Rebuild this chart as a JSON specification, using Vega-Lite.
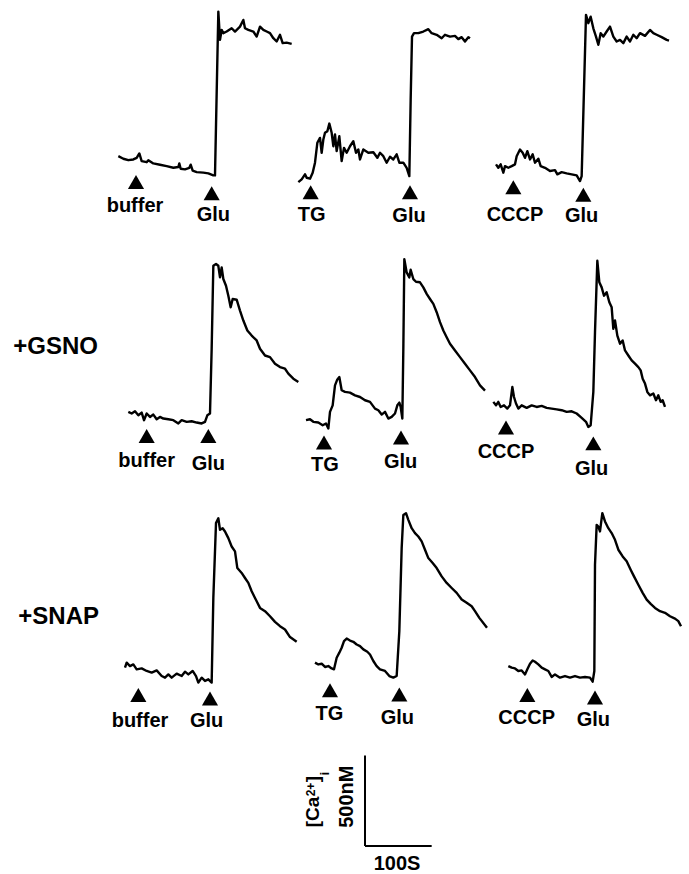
{
  "$schema": "https://vega.github.io/schema/vega-lite/v6.json",
  "width": 689,
  "height": 874,
  "autosize": {"type": "fit", "contains": "padding"},
  "padding": 0,
  "background": "white",
  "config": {"view": {"stroke": null}, "text": {"font": "Liberation Sans", "fontWeight": "bold", "color": "black"}},
  "datasets": {
    "traces": [
      {"trace":"ctrl-buffer","t":177.5,"ca":3945},{"trace":"ctrl-buffer","t":185,"ca":3931},{"trace":"ctrl-buffer","t":192.5,"ca":3923},{"trace":"ctrl-buffer","t":200,"ca":3927},{"trace":"ctrl-buffer","t":205,"ca":3936},{"trace":"ctrl-buffer","t":209,"ca":3960},{"trace":"ctrl-buffer","t":212.5,"ca":3918},{"trace":"ctrl-buffer","t":220,"ca":3912},{"trace":"ctrl-buffer","t":222.5,"ca":3923},{"trace":"ctrl-buffer","t":230,"ca":3905},{"trace":"ctrl-buffer","t":240,"ca":3898},{"trace":"ctrl-buffer","t":250,"ca":3890},{"trace":"ctrl-buffer","t":260,"ca":3881},{"trace":"ctrl-buffer","t":267.5,"ca":3885},{"trace":"ctrl-buffer","t":269,"ca":3905},{"trace":"ctrl-buffer","t":271,"ca":3876},{"trace":"ctrl-buffer","t":277.5,"ca":3872},{"trace":"ctrl-buffer","t":284,"ca":3881},{"trace":"ctrl-buffer","t":286,"ca":3898},{"trace":"ctrl-buffer","t":289,"ca":3865},{"trace":"ctrl-buffer","t":295,"ca":3857},{"trace":"ctrl-buffer","t":305,"ca":3854},{"trace":"ctrl-buffer","t":312.5,"ca":3850},{"trace":"ctrl-buffer","t":320,"ca":3839},{"trace":"ctrl-buffer","t":322.5,"ca":3839},{"trace":"ctrl-buffer","t":327.5,"ca":4743},{"trace":"ctrl-buffer","t":330,"ca":4587},{"trace":"ctrl-buffer","t":332.5,"ca":4642},{"trace":"ctrl-buffer","t":335,"ca":4624},{"trace":"ctrl-buffer","t":340,"ca":4633},{"trace":"ctrl-buffer","t":347.5,"ca":4651},{"trace":"ctrl-buffer","t":352.5,"ca":4633},{"trace":"ctrl-buffer","t":360,"ca":4660},{"trace":"ctrl-buffer","t":365,"ca":4697},{"trace":"ctrl-buffer","t":367.5,"ca":4651},{"trace":"ctrl-buffer","t":372.5,"ca":4642},{"trace":"ctrl-buffer","t":380,"ca":4633},{"trace":"ctrl-buffer","t":385,"ca":4605},{"trace":"ctrl-buffer","t":390,"ca":4660},{"trace":"ctrl-buffer","t":395,"ca":4642},{"trace":"ctrl-buffer","t":400,"ca":4633},{"trace":"ctrl-buffer","t":405,"ca":4624},{"trace":"ctrl-buffer","t":410,"ca":4596},{"trace":"ctrl-buffer","t":415,"ca":4578},{"trace":"ctrl-buffer","t":420,"ca":4615},{"trace":"ctrl-buffer","t":424,"ca":4569},{"trace":"ctrl-buffer","t":430,"ca":4572},{"trace":"ctrl-buffer","t":437.5,"ca":4565},

      {"trace":"ctrl-TG","t":447.5,"ca":3802},{"trace":"ctrl-TG","t":452.5,"ca":3817},{"trace":"ctrl-TG","t":457.5,"ca":3845},{"trace":"ctrl-TG","t":460,"ca":3826},{"trace":"ctrl-TG","t":465,"ca":3821},{"trace":"ctrl-TG","t":469,"ca":3854},{"trace":"ctrl-TG","t":472.5,"ca":3909},{"trace":"ctrl-TG","t":476,"ca":4019},{"trace":"ctrl-TG","t":480,"ca":4046},{"trace":"ctrl-TG","t":482.5,"ca":3964},{"trace":"ctrl-TG","t":485,"ca":4037},{"trace":"ctrl-TG","t":487.5,"ca":4074},{"trace":"ctrl-TG","t":491,"ca":4083},{"trace":"ctrl-TG","t":494,"ca":4125},{"trace":"ctrl-TG","t":497.5,"ca":4074},{"trace":"ctrl-TG","t":500,"ca":4000},{"trace":"ctrl-TG","t":502.5,"ca":4065},{"trace":"ctrl-TG","t":505,"ca":3973},{"trace":"ctrl-TG","t":509,"ca":4055},{"trace":"ctrl-TG","t":512.5,"ca":3918},{"trace":"ctrl-TG","t":516,"ca":3991},{"trace":"ctrl-TG","t":520,"ca":3964},{"trace":"ctrl-TG","t":525,"ca":4000},{"trace":"ctrl-TG","t":530,"ca":4028},{"trace":"ctrl-TG","t":534,"ca":3964},{"trace":"ctrl-TG","t":537.5,"ca":3982},{"trace":"ctrl-TG","t":540,"ca":3927},{"trace":"ctrl-TG","t":545,"ca":3982},{"trace":"ctrl-TG","t":552.5,"ca":3964},{"trace":"ctrl-TG","t":560,"ca":3967},{"trace":"ctrl-TG","t":566,"ca":3936},{"trace":"ctrl-TG","t":570,"ca":3964},{"trace":"ctrl-TG","t":575,"ca":3945},{"trace":"ctrl-TG","t":580,"ca":3909},{"trace":"ctrl-TG","t":585,"ca":3942},{"trace":"ctrl-TG","t":590,"ca":3927},{"trace":"ctrl-TG","t":595,"ca":3955},{"trace":"ctrl-TG","t":599,"ca":3909},{"trace":"ctrl-TG","t":605,"ca":3909},{"trace":"ctrl-TG","t":610,"ca":3881},{"trace":"ctrl-TG","t":614,"ca":3835},{"trace":"ctrl-TG","t":616,"ca":4257},{"trace":"ctrl-TG","t":618,"ca":4605},{"trace":"ctrl-TG","t":621,"ca":4624},{"trace":"ctrl-TG","t":627.5,"ca":4624},{"trace":"ctrl-TG","t":635,"ca":4633},{"trace":"ctrl-TG","t":642.5,"ca":4646},{"trace":"ctrl-TG","t":647.5,"ca":4624},{"trace":"ctrl-TG","t":655,"ca":4615},{"trace":"ctrl-TG","t":662.5,"ca":4596},{"trace":"ctrl-TG","t":667.5,"ca":4615},{"trace":"ctrl-TG","t":675,"ca":4605},{"trace":"ctrl-TG","t":682.5,"ca":4609},{"trace":"ctrl-TG","t":687.5,"ca":4591},{"trace":"ctrl-TG","t":692.5,"ca":4602},{"trace":"ctrl-TG","t":697.5,"ca":4578},{"trace":"ctrl-TG","t":702.5,"ca":4602},{"trace":"ctrl-TG","t":705,"ca":4596},

      {"trace":"ctrl-CCCP","t":744,"ca":3900},{"trace":"ctrl-CCCP","t":747.5,"ca":3881},{"trace":"ctrl-CCCP","t":751,"ca":3900},{"trace":"ctrl-CCCP","t":755,"ca":3854},{"trace":"ctrl-CCCP","t":757.5,"ca":3890},{"trace":"ctrl-CCCP","t":762.5,"ca":3881},{"trace":"ctrl-CCCP","t":767.5,"ca":3890},{"trace":"ctrl-CCCP","t":772.5,"ca":3900},{"trace":"ctrl-CCCP","t":775,"ca":3945},{"trace":"ctrl-CCCP","t":780,"ca":3982},{"trace":"ctrl-CCCP","t":784,"ca":3964},{"trace":"ctrl-CCCP","t":787.5,"ca":3936},{"trace":"ctrl-CCCP","t":791,"ca":3973},{"trace":"ctrl-CCCP","t":795,"ca":3927},{"trace":"ctrl-CCCP","t":799,"ca":3955},{"trace":"ctrl-CCCP","t":802.5,"ca":3909},{"trace":"ctrl-CCCP","t":807.5,"ca":3931},{"trace":"ctrl-CCCP","t":811,"ca":3890},{"trace":"ctrl-CCCP","t":817.5,"ca":3881},{"trace":"ctrl-CCCP","t":825,"ca":3863},{"trace":"ctrl-CCCP","t":832.5,"ca":3868},{"trace":"ctrl-CCCP","t":836,"ca":3845},{"trace":"ctrl-CCCP","t":842.5,"ca":3857},{"trace":"ctrl-CCCP","t":850,"ca":3850},{"trace":"ctrl-CCCP","t":857.5,"ca":3845},{"trace":"ctrl-CCCP","t":865,"ca":3839},{"trace":"ctrl-CCCP","t":870,"ca":3808},{"trace":"ctrl-CCCP","t":872.5,"ca":3835},{"trace":"ctrl-CCCP","t":879,"ca":4725},{"trace":"ctrl-CCCP","t":882.5,"ca":4679},{"trace":"ctrl-CCCP","t":886,"ca":4715},{"trace":"ctrl-CCCP","t":890,"ca":4651},{"trace":"ctrl-CCCP","t":894,"ca":4605},{"trace":"ctrl-CCCP","t":897.5,"ca":4560},{"trace":"ctrl-CCCP","t":901,"ca":4624},{"trace":"ctrl-CCCP","t":905,"ca":4605},{"trace":"ctrl-CCCP","t":910,"ca":4633},{"trace":"ctrl-CCCP","t":915,"ca":4660},{"trace":"ctrl-CCCP","t":920,"ca":4605},{"trace":"ctrl-CCCP","t":925,"ca":4578},{"trace":"ctrl-CCCP","t":930,"ca":4587},{"trace":"ctrl-CCCP","t":935,"ca":4569},{"trace":"ctrl-CCCP","t":940,"ca":4605},{"trace":"ctrl-CCCP","t":945,"ca":4578},{"trace":"ctrl-CCCP","t":950,"ca":4615},{"trace":"ctrl-CCCP","t":955,"ca":4596},{"trace":"ctrl-CCCP","t":960,"ca":4624},{"trace":"ctrl-CCCP","t":967.5,"ca":4609},{"trace":"ctrl-CCCP","t":975,"ca":4642},{"trace":"ctrl-CCCP","t":980,"ca":4624},{"trace":"ctrl-CCCP","t":985,"ca":4615},{"trace":"ctrl-CCCP","t":992.5,"ca":4602},{"trace":"ctrl-CCCP","t":1000,"ca":4587},{"trace":"ctrl-CCCP","t":1003.5,"ca":4583},

      {"trace":"GSNO-buffer","t":192.5,"ca":2534},{"trace":"GSNO-buffer","t":197.5,"ca":2525},{"trace":"GSNO-buffer","t":202.5,"ca":2537},{"trace":"GSNO-buffer","t":207.5,"ca":2515},{"trace":"GSNO-buffer","t":212.5,"ca":2530},{"trace":"GSNO-buffer","t":216,"ca":2488},{"trace":"GSNO-buffer","t":220,"ca":2525},{"trace":"GSNO-buffer","t":225,"ca":2506},{"trace":"GSNO-buffer","t":230,"ca":2519},{"trace":"GSNO-buffer","t":235,"ca":2493},{"trace":"GSNO-buffer","t":240,"ca":2506},{"trace":"GSNO-buffer","t":245,"ca":2497},{"trace":"GSNO-buffer","t":252.5,"ca":2493},{"trace":"GSNO-buffer","t":260,"ca":2488},{"trace":"GSNO-buffer","t":267.5,"ca":2470},{"trace":"GSNO-buffer","t":272.5,"ca":2488},{"trace":"GSNO-buffer","t":280,"ca":2479},{"trace":"GSNO-buffer","t":287.5,"ca":2482},{"trace":"GSNO-buffer","t":295,"ca":2475},{"trace":"GSNO-buffer","t":302.5,"ca":2470},{"trace":"GSNO-buffer","t":307.5,"ca":2479},{"trace":"GSNO-buffer","t":311,"ca":2515},{"trace":"GSNO-buffer","t":315,"ca":2525},{"trace":"GSNO-buffer","t":317.5,"ca":2882},{"trace":"GSNO-buffer","t":320,"ca":3340},{"trace":"GSNO-buffer","t":324,"ca":3350},{"trace":"GSNO-buffer","t":327.5,"ca":3340},{"trace":"GSNO-buffer","t":330,"ca":3276},{"trace":"GSNO-buffer","t":332.5,"ca":3331},{"trace":"GSNO-buffer","t":335,"ca":3267},{"trace":"GSNO-buffer","t":339,"ca":3230},{"trace":"GSNO-buffer","t":342.5,"ca":3175},{"trace":"GSNO-buffer","t":346,"ca":3111},{"trace":"GSNO-buffer","t":349,"ca":3157},{"trace":"GSNO-buffer","t":355,"ca":3153},{"trace":"GSNO-buffer","t":360,"ca":3093},{"trace":"GSNO-buffer","t":365,"ca":3038},{"trace":"GSNO-buffer","t":371,"ca":2983},{"trace":"GSNO-buffer","t":377.5,"ca":2955},{"trace":"GSNO-buffer","t":385,"ca":2928},{"trace":"GSNO-buffer","t":390,"ca":2882},{"trace":"GSNO-buffer","t":397.5,"ca":2845},{"trace":"GSNO-buffer","t":405,"ca":2836},{"trace":"GSNO-buffer","t":412.5,"ca":2800},{"trace":"GSNO-buffer","t":420,"ca":2781},{"trace":"GSNO-buffer","t":427.5,"ca":2772},{"trace":"GSNO-buffer","t":432.5,"ca":2745},{"trace":"GSNO-buffer","t":440,"ca":2717},{"trace":"GSNO-buffer","t":447.5,"ca":2699},

      {"trace":"GSNO-TG","t":459,"ca":2488},{"trace":"GSNO-TG","t":465,"ca":2493},{"trace":"GSNO-TG","t":470,"ca":2479},{"trace":"GSNO-TG","t":477.5,"ca":2475},{"trace":"GSNO-TG","t":484,"ca":2460},{"trace":"GSNO-TG","t":489,"ca":2470},{"trace":"GSNO-TG","t":492.5,"ca":2442},{"trace":"GSNO-TG","t":495,"ca":2534},{"trace":"GSNO-TG","t":499,"ca":2570},{"trace":"GSNO-TG","t":502.5,"ca":2680},{"trace":"GSNO-TG","t":506,"ca":2713},{"trace":"GSNO-TG","t":509,"ca":2726},{"trace":"GSNO-TG","t":512.5,"ca":2653},{"trace":"GSNO-TG","t":517.5,"ca":2644},{"trace":"GSNO-TG","t":525,"ca":2640},{"trace":"GSNO-TG","t":532.5,"ca":2625},{"trace":"GSNO-TG","t":540,"ca":2616},{"trace":"GSNO-TG","t":547.5,"ca":2598},{"trace":"GSNO-TG","t":555,"ca":2589},{"trace":"GSNO-TG","t":562.5,"ca":2552},{"trace":"GSNO-TG","t":567.5,"ca":2543},{"trace":"GSNO-TG","t":572.5,"ca":2519},{"trace":"GSNO-TG","t":577.5,"ca":2534},{"trace":"GSNO-TG","t":582.5,"ca":2497},{"trace":"GSNO-TG","t":587.5,"ca":2506},{"trace":"GSNO-TG","t":592.5,"ca":2525},{"trace":"GSNO-TG","t":596,"ca":2570},{"trace":"GSNO-TG","t":599,"ca":2585},{"trace":"GSNO-TG","t":601,"ca":2561},{"trace":"GSNO-TG","t":603.5,"ca":2497},{"trace":"GSNO-TG","t":605,"ca":2882},{"trace":"GSNO-TG","t":606.5,"ca":3377},{"trace":"GSNO-TG","t":610,"ca":3304},{"trace":"GSNO-TG","t":614,"ca":3276},{"trace":"GSNO-TG","t":616,"ca":3318},{"trace":"GSNO-TG","t":620,"ca":3267},{"trace":"GSNO-TG","t":624,"ca":3252},{"trace":"GSNO-TG","t":630,"ca":3249},{"trace":"GSNO-TG","t":635,"ca":3221},{"trace":"GSNO-TG","t":640,"ca":3185},{"trace":"GSNO-TG","t":645,"ca":3157},{"trace":"GSNO-TG","t":650,"ca":3130},{"trace":"GSNO-TG","t":655,"ca":3084},{"trace":"GSNO-TG","t":660,"ca":3029},{"trace":"GSNO-TG","t":665,"ca":2983},{"trace":"GSNO-TG","t":670,"ca":2946},{"trace":"GSNO-TG","t":675,"ca":2910},{"trace":"GSNO-TG","t":682.5,"ca":2873},{"trace":"GSNO-TG","t":690,"ca":2836},{"trace":"GSNO-TG","t":697.5,"ca":2800},{"trace":"GSNO-TG","t":705,"ca":2763},{"trace":"GSNO-TG","t":712.5,"ca":2726},{"trace":"GSNO-TG","t":720,"ca":2680},{"trace":"GSNO-TG","t":727.5,"ca":2651},

      {"trace":"GSNO-CCCP","t":740,"ca":2589},{"trace":"GSNO-CCCP","t":744,"ca":2570},{"trace":"GSNO-CCCP","t":747.5,"ca":2589},{"trace":"GSNO-CCCP","t":751,"ca":2561},{"trace":"GSNO-CCCP","t":756,"ca":2570},{"trace":"GSNO-CCCP","t":761,"ca":2552},{"trace":"GSNO-CCCP","t":765,"ca":2570},{"trace":"GSNO-CCCP","t":768.5,"ca":2671},{"trace":"GSNO-CCCP","t":771,"ca":2616},{"trace":"GSNO-CCCP","t":774,"ca":2580},{"trace":"GSNO-CCCP","t":777.5,"ca":2552},{"trace":"GSNO-CCCP","t":782.5,"ca":2570},{"trace":"GSNO-CCCP","t":790,"ca":2556},{"trace":"GSNO-CCCP","t":797.5,"ca":2570},{"trace":"GSNO-CCCP","t":805,"ca":2561},{"trace":"GSNO-CCCP","t":812.5,"ca":2567},{"trace":"GSNO-CCCP","t":820,"ca":2556},{"trace":"GSNO-CCCP","t":827.5,"ca":2552},{"trace":"GSNO-CCCP","t":835,"ca":2548},{"trace":"GSNO-CCCP","t":842.5,"ca":2543},{"trace":"GSNO-CCCP","t":850,"ca":2534},{"trace":"GSNO-CCCP","t":857.5,"ca":2537},{"trace":"GSNO-CCCP","t":865,"ca":2525},{"trace":"GSNO-CCCP","t":872.5,"ca":2501},{"trace":"GSNO-CCCP","t":879,"ca":2479},{"trace":"GSNO-CCCP","t":882.5,"ca":2451},{"trace":"GSNO-CCCP","t":886,"ca":2460},{"trace":"GSNO-CCCP","t":890,"ca":2644},{"trace":"GSNO-CCCP","t":892.5,"ca":2974},{"trace":"GSNO-CCCP","t":896,"ca":3368},{"trace":"GSNO-CCCP","t":899,"ca":3249},{"trace":"GSNO-CCCP","t":902.5,"ca":3221},{"trace":"GSNO-CCCP","t":906,"ca":3175},{"trace":"GSNO-CCCP","t":910,"ca":3194},{"trace":"GSNO-CCCP","t":914,"ca":3139},{"trace":"GSNO-CCCP","t":917.5,"ca":3111},{"trace":"GSNO-CCCP","t":920,"ca":2992},{"trace":"GSNO-CCCP","t":922.5,"ca":3038},{"trace":"GSNO-CCCP","t":926,"ca":2955},{"trace":"GSNO-CCCP","t":930,"ca":2910},{"trace":"GSNO-CCCP","t":934,"ca":2928},{"trace":"GSNO-CCCP","t":937.5,"ca":2873},{"trace":"GSNO-CCCP","t":942.5,"ca":2845},{"trace":"GSNO-CCCP","t":947.5,"ca":2818},{"trace":"GSNO-CCCP","t":952.5,"ca":2800},{"trace":"GSNO-CCCP","t":957.5,"ca":2781},{"trace":"GSNO-CCCP","t":961,"ca":2763},{"trace":"GSNO-CCCP","t":964,"ca":2717},{"trace":"GSNO-CCCP","t":967.5,"ca":2690},{"trace":"GSNO-CCCP","t":971,"ca":2644},{"trace":"GSNO-CCCP","t":975,"ca":2625},{"trace":"GSNO-CCCP","t":980,"ca":2635},{"trace":"GSNO-CCCP","t":984,"ca":2598},{"trace":"GSNO-CCCP","t":987.5,"ca":2625},{"trace":"GSNO-CCCP","t":991,"ca":2589},{"trace":"GSNO-CCCP","t":994,"ca":2598},{"trace":"GSNO-CCCP","t":997.5,"ca":2561},

      {"trace":"SNAP-buffer","t":187.5,"ca":1122},{"trace":"SNAP-buffer","t":190,"ca":1150},{"trace":"SNAP-buffer","t":195,"ca":1131},{"trace":"SNAP-buffer","t":200,"ca":1140},{"trace":"SNAP-buffer","t":205,"ca":1113},{"trace":"SNAP-buffer","t":212.5,"ca":1118},{"trace":"SNAP-buffer","t":220,"ca":1104},{"trace":"SNAP-buffer","t":227.5,"ca":1095},{"trace":"SNAP-buffer","t":235,"ca":1107},{"trace":"SNAP-buffer","t":242.5,"ca":1076},{"trace":"SNAP-buffer","t":247.5,"ca":1067},{"trace":"SNAP-buffer","t":252.5,"ca":1085},{"trace":"SNAP-buffer","t":257.5,"ca":1067},{"trace":"SNAP-buffer","t":265,"ca":1089},{"trace":"SNAP-buffer","t":272.5,"ca":1076},{"trace":"SNAP-buffer","t":277.5,"ca":1100},{"trace":"SNAP-buffer","t":282.5,"ca":1085},{"trace":"SNAP-buffer","t":289,"ca":1104},{"trace":"SNAP-buffer","t":294,"ca":1076},{"trace":"SNAP-buffer","t":297.5,"ca":1040},{"trace":"SNAP-buffer","t":302.5,"ca":1067},{"trace":"SNAP-buffer","t":307.5,"ca":1049},{"trace":"SNAP-buffer","t":312.5,"ca":1058},{"trace":"SNAP-buffer","t":317.5,"ca":1040},{"trace":"SNAP-buffer","t":320,"ca":1507},{"trace":"SNAP-buffer","t":324,"ca":1920},{"trace":"SNAP-buffer","t":327.5,"ca":1947},{"trace":"SNAP-buffer","t":330,"ca":1883},{"trace":"SNAP-buffer","t":334,"ca":1892},{"trace":"SNAP-buffer","t":337.5,"ca":1874},{"trace":"SNAP-buffer","t":342.5,"ca":1837},{"trace":"SNAP-buffer","t":347.5,"ca":1791},{"trace":"SNAP-buffer","t":352.5,"ca":1764},{"trace":"SNAP-buffer","t":356,"ca":1672},{"trace":"SNAP-buffer","t":362.5,"ca":1645},{"trace":"SNAP-buffer","t":367.5,"ca":1617},{"trace":"SNAP-buffer","t":372.5,"ca":1590},{"trace":"SNAP-buffer","t":377.5,"ca":1544},{"trace":"SNAP-buffer","t":382.5,"ca":1507},{"trace":"SNAP-buffer","t":390,"ca":1452},{"trace":"SNAP-buffer","t":397.5,"ca":1434},{"trace":"SNAP-buffer","t":405,"ca":1406},{"trace":"SNAP-buffer","t":412.5,"ca":1375},{"trace":"SNAP-buffer","t":420,"ca":1351},{"trace":"SNAP-buffer","t":427.5,"ca":1333},{"trace":"SNAP-buffer","t":435,"ca":1291},{"trace":"SNAP-buffer","t":445,"ca":1265},

      {"trace":"SNAP-TG","t":472.5,"ca":1150},{"trace":"SNAP-TG","t":477.5,"ca":1140},{"trace":"SNAP-TG","t":482.5,"ca":1144},{"trace":"SNAP-TG","t":487.5,"ca":1126},{"trace":"SNAP-TG","t":492.5,"ca":1131},{"trace":"SNAP-TG","t":497.5,"ca":1118},{"trace":"SNAP-TG","t":501,"ca":1113},{"trace":"SNAP-TG","t":505,"ca":1177},{"trace":"SNAP-TG","t":509,"ca":1205},{"trace":"SNAP-TG","t":512.5,"ca":1232},{"trace":"SNAP-TG","t":516,"ca":1269},{"trace":"SNAP-TG","t":520,"ca":1283},{"trace":"SNAP-TG","t":525,"ca":1272},{"trace":"SNAP-TG","t":530,"ca":1265},{"trace":"SNAP-TG","t":535,"ca":1250},{"trace":"SNAP-TG","t":540,"ca":1241},{"trace":"SNAP-TG","t":545,"ca":1223},{"trace":"SNAP-TG","t":551,"ca":1210},{"trace":"SNAP-TG","t":555,"ca":1195},{"trace":"SNAP-TG","t":560,"ca":1159},{"trace":"SNAP-TG","t":565,"ca":1131},{"trace":"SNAP-TG","t":570,"ca":1113},{"trace":"SNAP-TG","t":577.5,"ca":1104},{"trace":"SNAP-TG","t":584,"ca":1076},{"trace":"SNAP-TG","t":590,"ca":1067},{"trace":"SNAP-TG","t":595,"ca":1076},{"trace":"SNAP-TG","t":599,"ca":1324},{"trace":"SNAP-TG","t":602.5,"ca":1782},{"trace":"SNAP-TG","t":605,"ca":1965},{"trace":"SNAP-TG","t":609,"ca":1975},{"trace":"SNAP-TG","t":612.5,"ca":1938},{"trace":"SNAP-TG","t":617.5,"ca":1892},{"trace":"SNAP-TG","t":622.5,"ca":1865},{"trace":"SNAP-TG","t":627.5,"ca":1846},{"trace":"SNAP-TG","t":632.5,"ca":1819},{"trace":"SNAP-TG","t":637.5,"ca":1773},{"trace":"SNAP-TG","t":642.5,"ca":1727},{"trace":"SNAP-TG","t":649,"ca":1700},{"trace":"SNAP-TG","t":655,"ca":1672},{"trace":"SNAP-TG","t":662.5,"ca":1626},{"trace":"SNAP-TG","t":670,"ca":1590},{"trace":"SNAP-TG","t":677.5,"ca":1562},{"trace":"SNAP-TG","t":685,"ca":1535},{"trace":"SNAP-TG","t":692.5,"ca":1498},{"trace":"SNAP-TG","t":700,"ca":1480},{"trace":"SNAP-TG","t":707.5,"ca":1461},{"trace":"SNAP-TG","t":712.5,"ca":1434},{"trace":"SNAP-TG","t":719,"ca":1397},{"trace":"SNAP-TG","t":730.5,"ca":1342},

      {"trace":"SNAP-CCCP","t":762.5,"ca":1131},{"trace":"SNAP-CCCP","t":767.5,"ca":1122},{"trace":"SNAP-CCCP","t":772.5,"ca":1118},{"trace":"SNAP-CCCP","t":777.5,"ca":1104},{"trace":"SNAP-CCCP","t":782.5,"ca":1107},{"trace":"SNAP-CCCP","t":787.5,"ca":1085},{"trace":"SNAP-CCCP","t":791,"ca":1113},{"trace":"SNAP-CCCP","t":795,"ca":1144},{"trace":"SNAP-CCCP","t":799,"ca":1162},{"trace":"SNAP-CCCP","t":802.5,"ca":1155},{"trace":"SNAP-CCCP","t":807.5,"ca":1140},{"trace":"SNAP-CCCP","t":812.5,"ca":1122},{"trace":"SNAP-CCCP","t":817.5,"ca":1113},{"trace":"SNAP-CCCP","t":822.5,"ca":1104},{"trace":"SNAP-CCCP","t":827.5,"ca":1071},{"trace":"SNAP-CCCP","t":832.5,"ca":1085},{"trace":"SNAP-CCCP","t":840,"ca":1067},{"trace":"SNAP-CCCP","t":847.5,"ca":1076},{"trace":"SNAP-CCCP","t":855,"ca":1067},{"trace":"SNAP-CCCP","t":862.5,"ca":1076},{"trace":"SNAP-CCCP","t":870,"ca":1067},{"trace":"SNAP-CCCP","t":877.5,"ca":1071},{"trace":"SNAP-CCCP","t":885,"ca":1067},{"trace":"SNAP-CCCP","t":889,"ca":1045},{"trace":"SNAP-CCCP","t":891.5,"ca":1104},{"trace":"SNAP-CCCP","t":892.5,"ca":1690},{"trace":"SNAP-CCCP","t":895,"ca":1910},{"trace":"SNAP-CCCP","t":897.5,"ca":1901},{"trace":"SNAP-CCCP","t":900,"ca":1874},{"trace":"SNAP-CCCP","t":903.5,"ca":1975},{"trace":"SNAP-CCCP","t":907.5,"ca":1929},{"trace":"SNAP-CCCP","t":912.5,"ca":1892},{"trace":"SNAP-CCCP","t":917.5,"ca":1865},{"trace":"SNAP-CCCP","t":922.5,"ca":1828},{"trace":"SNAP-CCCP","t":927.5,"ca":1773},{"trace":"SNAP-CCCP","t":934,"ca":1736},{"trace":"SNAP-CCCP","t":940,"ca":1709},{"trace":"SNAP-CCCP","t":946,"ca":1663},{"trace":"SNAP-CCCP","t":951,"ca":1626},{"trace":"SNAP-CCCP","t":957.5,"ca":1580},{"trace":"SNAP-CCCP","t":964,"ca":1535},{"trace":"SNAP-CCCP","t":970,"ca":1498},{"trace":"SNAP-CCCP","t":976,"ca":1474},{"trace":"SNAP-CCCP","t":982.5,"ca":1452},{"trace":"SNAP-CCCP","t":990,"ca":1434},{"trace":"SNAP-CCCP","t":997.5,"ca":1425},{"trace":"SNAP-CCCP","t":1005,"ca":1406},{"trace":"SNAP-CCCP","t":1012.5,"ca":1393},{"trace":"SNAP-CCCP","t":1017.5,"ca":1379},{"trace":"SNAP-CCCP","t":1021.5,"ca":1351}
    ],
    "arrows": [
      {"agent":"buffer","t":204,"ca":3803},{"agent":"Glu","t":317.5,"ca":3740},
      {"agent":"TG","t":466,"ca":3746},{"agent":"Glu","t":615,"ca":3746},
      {"agent":"CCCP","t":770,"ca":3773},{"agent":"Glu","t":875,"ca":3732},
      {"agent":"buffer","t":220,"ca":2401},{"agent":"Glu","t":312.5,"ca":2401},
      {"agent":"TG","t":486,"ca":2365},{"agent":"Glu","t":601.5,"ca":2393},
      {"agent":"CCCP","t":759,"ca":2448},{"agent":"Glu","t":890,"ca":2360},
      {"agent":"buffer","t":207.5,"ca":971},{"agent":"Glu","t":315,"ca":952},
      {"agent":"TG","t":495,"ca":998},{"agent":"Glu","t":599,"ca":974},
      {"agent":"CCCP","t":791,"ca":971},{"agent":"Glu","t":892.5,"ca":957}
    ],
    "labels": [
      {"text":"buffer","t":202.5,"ca":3636},{"text":"Glu","t":320,"ca":3586},
      {"text":"TG","t":467.5,"ca":3588},{"text":"Glu","t":613.5,"ca":3582},
      {"text":"CCCP","t":772.5,"ca":3588},{"text":"Glu","t":872.5,"ca":3582},
      {"text":"buffer","t":220,"ca":2231},{"text":"Glu","t":312.5,"ca":2213},
      {"text":"TG","t":487.5,"ca":2207},{"text":"Glu","t":601,"ca":2222},
      {"text":"CCCP","t":759,"ca":2277},{"text":"Glu","t":887.5,"ca":2185},
      {"text":"buffer","t":210,"ca":792},{"text":"Glu","t":310,"ca":792},
      {"text":"TG","t":494,"ca":832},{"text":"Glu","t":596,"ca":810},
      {"text":"CCCP","t":790,"ca":810},{"text":"Glu","t":890,"ca":803}
    ],
    "rowLabels": [
      {"text":"+GSNO","t":20,"ca":2855},
      {"text":"+SNAP","t":27.5,"ca":1364}
    ],
    "scaleBar": [
      {"t":547.5,"t2":547.5,"ca":137.5,"ca2":637.5},
      {"t":547.5,"t2":647.5,"ca":137.5,"ca2":137.5}
    ],
    "scaleTime": [{"text":"100S","t":595.5,"ca":5.5}],
    "scaleConc": [{"text":"500nM","t":529.5,"ca":410}],
    "unitMain": [{"text":"[Ca","t":478.5,"ca":326},{"text":"]","t":478.5,"ca":507}],
    "unitSup": [{"text":"2+","t":472.5,"ca":450}],
    "unitSub": [{"text":"i","t":493.5,"ca":537}]
  },
  "encoding": {
    "x": {"field":"t","type":"quantitative","scale":{"domain":[0,1033.5],"nice":false,"zero":false},"axis":null},
    "y": {"field":"ca","type":"quantitative","scale":{"domain":[0,4807],"nice":false,"zero":false},"axis":null}
  },
  "layer": [
    {
      "data": {"name":"traces"},
      "mark": {"type":"line","color":"black","strokeWidth":2.4,"strokeJoin":"round","clip":false},
      "encoding": {"detail":{"field":"trace","type":"nominal"}}
    },
    {
      "data": {"name":"arrows"},
      "mark": {"type":"point","shape":"triangle-up","filled":true,"color":"black","opacity":1,"size":260},
      "encoding": {}
    },
    {
      "data": {"name":"labels"},
      "mark": {"type":"text","fontSize":20,"align":"center","baseline":"alphabetic"},
      "encoding": {"text":{"field":"text"}}
    },
    {
      "data": {"name":"rowLabels"},
      "mark": {"type":"text","fontSize":24,"align":"left","baseline":"alphabetic"},
      "encoding": {"text":{"field":"text"}}
    },
    {
      "data": {"name":"scaleBar"},
      "mark": {"type":"rule","color":"black","strokeWidth":2},
      "encoding": {"x2":{"field":"t2"},"y2":{"field":"ca2"}}
    },
    {
      "data": {"name":"scaleTime"},
      "mark": {"type":"text","fontSize":20,"align":"center","baseline":"alphabetic"},
      "encoding": {"text":{"field":"text"}}
    },
    {
      "data": {"name":"scaleConc"},
      "mark": {"type":"text","fontSize":20,"align":"center","baseline":"alphabetic","angle":270},
      "encoding": {"text":{"field":"text"}}
    },
    {
      "data": {"name":"unitMain"},
      "mark": {"type":"text","fontSize":19,"align":"center","baseline":"alphabetic","angle":270},
      "encoding": {"text":{"field":"text"}}
    },
    {
      "data": {"name":"unitSup"},
      "mark": {"type":"text","fontSize":12,"align":"center","baseline":"alphabetic","angle":270},
      "encoding": {"text":{"field":"text"}}
    },
    {
      "data": {"name":"unitSub"},
      "mark": {"type":"text","fontSize":12,"align":"center","baseline":"alphabetic","angle":270},
      "encoding": {"text":{"field":"text"}}
    }
  ]
}
